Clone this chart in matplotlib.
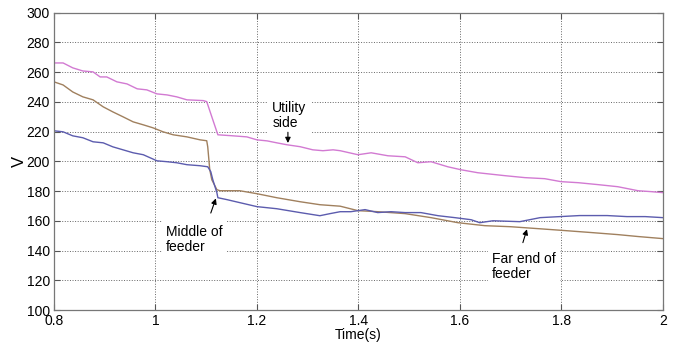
import matplotlib
matplotlib.use("Agg")
import matplotlib.pyplot as plt

# values
utility_t = [0.800, 0.818, 0.837, 0.857, 0.877, 0.891, 0.904, 0.924, 0.944, 0.964,
             0.983, 1.003, 1.023, 1.042, 1.062, 1.094, 1.101, 1.113, 1.123, 1.153,
             1.180, 1.200, 1.220, 1.239, 1.259, 1.285, 1.310, 1.330, 1.350, 1.364,
             1.399, 1.425, 1.458, 1.492, 1.517, 1.543, 1.576, 1.602, 1.635, 1.689,
             1.728, 1.767, 1.799, 1.833, 1.872, 1.911, 1.951, 1.976, 2.000]
utility_v = [266.1, 266.1, 262.8, 260.7, 260.1, 256.7, 256.7, 253.4, 252.0, 248.7,
             248.0, 245.3, 244.6, 243.3, 241.3, 240.8, 240.1, 227.9, 217.8, 217.1,
             216.4, 214.4, 213.7, 212.4, 211.1, 209.8, 207.7, 207.1, 207.7, 207.1,
             204.4, 205.7, 203.7, 203.0, 199.0, 199.7, 196.3, 194.3, 192.3, 190.3,
             189.0, 188.3, 186.3, 185.6, 184.3, 182.9, 180.2, 179.6, 178.9]

far_t = [0.800, 0.818, 0.837, 0.857, 0.877, 0.897, 0.916, 0.936, 0.956, 0.976,
         0.995, 1.015, 1.035, 1.062, 1.088, 1.101, 1.103, 1.107, 1.111, 1.121,
         1.127, 1.166, 1.200, 1.239, 1.285, 1.324, 1.364, 1.399, 1.438, 1.492,
         1.543, 1.596, 1.649, 1.700, 1.754, 1.807, 1.858, 1.911, 1.951, 2.000]
far_v = [253.4, 251.3, 246.6, 243.3, 241.3, 236.6, 233.2, 229.9, 226.5, 224.5,
         222.5, 219.8, 217.8, 216.4, 214.4, 213.8, 209.7, 194.3, 187.6, 180.9,
         180.2, 180.2, 178.2, 175.5, 172.8, 170.8, 169.8, 166.8, 166.1, 164.8,
         162.1, 158.7, 156.7, 156.0, 154.7, 153.4, 152.1, 150.7, 149.4, 148.0]

middle_t = [0.800, 0.818, 0.837, 0.857, 0.877, 0.897, 0.916, 0.936, 0.956, 0.976,
            1.003, 1.023, 1.042, 1.062, 1.088, 1.103, 1.109, 1.113, 1.121, 1.123,
            1.141, 1.166, 1.200, 1.239, 1.285, 1.324, 1.344, 1.364, 1.385, 1.413,
            1.438, 1.464, 1.492, 1.523, 1.557, 1.590, 1.622, 1.639, 1.665, 1.718,
            1.758, 1.797, 1.836, 1.890, 1.929, 1.965, 2.000]
middle_v = [220.5, 219.8, 217.1, 215.8, 213.1, 212.4, 209.7, 207.7, 205.7, 204.4,
            200.3, 199.7, 199.0, 197.7, 197.0, 196.3, 193.0, 187.6, 178.9, 175.5,
            174.2, 172.2, 169.5, 168.1, 165.5, 163.4, 164.8, 166.1, 166.1, 167.5,
            165.5, 166.1, 165.5, 165.5, 163.4, 162.1, 160.7, 158.7, 160.0, 159.4,
            162.1, 162.8, 163.5, 163.5, 162.8, 162.8, 162.1]

x_ticks = [0.8, 1, 1.2, 1.4, 1.6, 1.8, 2]
x_tick_labels = ["0.8", "1", "1.2", "1.4", "1.6", "1.8", "2"]
y_ticks = [100, 120, 140, 160, 180, 200, 220, 240, 260, 280, 300]

plt.rcParams["font.family"] = ["Liberation Sans", "DejaVu Sans"]
plt.rcParams["font.size"] = 10

fig = plt.figure(figsize=(6.78, 3.45), dpi=100)
ax = fig.add_axes([0.0796, 0.1014, 0.8982, 0.8623])

ax.plot(utility_t, utility_v, color="#d27ad2", lw=1.0)
ax.plot(far_t, far_v, color="#a0805e", lw=1.0)
ax.plot(middle_t, middle_v, color="#5c5cae", lw=1.0)

ax.set_xlim(0.8, 2)
ax.set_ylim(100, 300)
ax.set_xticks(x_ticks)
ax.set_xticklabels(x_tick_labels)
ax.set_yticks(y_ticks)
ax.tick_params(direction="in", top=True, right=True, length=4, pad=3,
               color="#555555", labelcolor="black")
for s in ax.spines.values():
    s.set_color("#777777")
    s.set_linewidth(0.9)
ax.grid(True, linestyle=":", color="#666666", linewidth=0.7)
ax.set_axisbelow(True)

ax.set_xlabel("Time(s)", labelpad=0)
ax.set_ylabel("V", labelpad=-0.5, fontsize=12)

box = dict(facecolor="white", edgecolor="none", pad=3)
arrow = dict(arrowstyle="-|>", color="black", lw=0.8, mutation_scale=8,
             shrinkA=0, shrinkB=0)

ax.text(1.230, 230.5, "Utility\nside", va="center", ha="left", bbox=box,
        linespacing=1.1)
ax.annotate("", xy=(1.261, 212.3), xytext=(1.261, 219.5), arrowprops=arrow)

ax.text(1.021, 147.5, "Middle of\nfeeder", va="center", ha="left", bbox=box,
        linespacing=1.1)
ax.annotate("", xy=(1.119, 175.0), xytext=(1.109, 165.2), arrowprops=arrow)

ax.text(1.663, 129.0, "Far end of\nfeeder", va="center", ha="left", bbox=box,
        linespacing=1.1)
ax.annotate("", xy=(1.732, 154.3), xytext=(1.724, 145.3), arrowprops=arrow)

fig.savefig("out.png", dpi=100)
